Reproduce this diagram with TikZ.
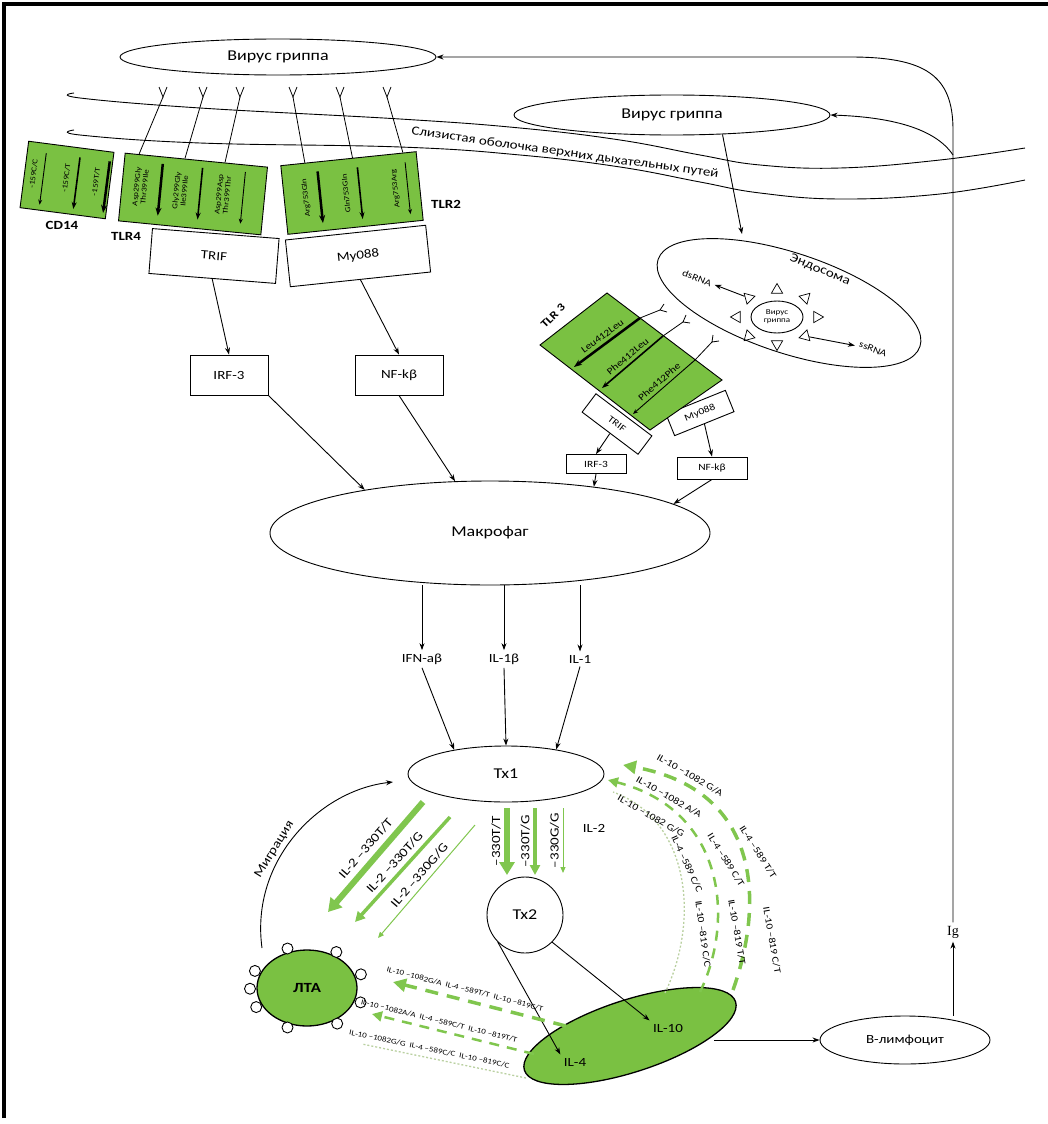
\documentclass[tikz,border=0pt]{standalone}
\usepackage{fontspec}
\setmainfont{Carlito}[FakeStretch=1.2]
\newfontfamily\igfont{Liberation Serif}
\usetikzlibrary{arrows.meta, positioning, calc, shapes.geometric}

\definecolor{leaf}{RGB}{122,193,66}
\definecolor{snp}{RGB}{128,198,78}
\definecolor{snplight}{RGB}{185,208,160}

\begin{document}
\begin{tikzpicture}[
    x=1pt, y=-1pt,
    arr/.style={-{Stealth[length=7pt, width=5pt]}, line width=0.9pt},
    cell/.style={ellipse, draw, line width=0.9pt, inner sep=0pt},
    gbox/.style={draw, fill=leaf, line width=0.9pt, inner sep=0pt},
    wbox/.style={draw, fill=white, line width=0.9pt, inner sep=0pt},
    rec/.style={line width=0.8pt},
    snpA/.style={-{Triangle[length=13pt, width=15pt]}, line width=6pt, draw=snp},
    snpB/.style={-{Triangle[length=10pt, width=10pt]}, line width=3.5pt, draw=snp},
    snpC/.style={-{Triangle[length=6pt, width=5pt]}, line width=1pt, draw=snp},
    dashA/.style={-{Triangle[length=13pt, width=13pt]}, line width=3.5pt, draw=snp, dash pattern=on 13pt off 9pt},
    dashB/.style={-{Triangle[length=10pt, width=10pt]}, line width=2.5pt, draw=snp, dash pattern=on 10pt off 8pt},
    dashC/.style={line width=1.3pt, draw=snplight, dash pattern=on 2pt off 2pt},
    barA/.style={-{Stealth[length=8pt, width=6pt]}, line width=2.5pt},
    barB/.style={-{Stealth[length=7pt, width=5pt]}, line width=1.6pt},
    barC/.style={-{Stealth[length=5pt, width=4pt]}, line width=0.9pt},
    fbig/.style={font=\fontsize{15}{16}\selectfont},
    fmid/.style={font=\fontsize{12.5}{13.5}\selectfont},
    fsmall/.style={font=\fontsize{9.5}{10.5}\selectfont},
    ftiny/.style={font=\fontsize{7.5}{8}\selectfont},
    flabel/.style={font=\bfseries\fontsize{12.5}{13.5}\selectfont},
]

\useasboundingbox (0,0) rectangle (1048,1124);
\draw[line width=3.5pt] (4,1118) -- (4,4) -- (1048,4);

\node[cell, fbig, minimum width=316, minimum height=36] (flu) at (278,57) {Вирус гриппа};
\node[cell, fbig, minimum width=316, minimum height=40] (flu2) at (672,115) {Вирус гриппа};

\draw[line width=0.9pt] plot[smooth, tension=0.7] coordinates {(74,93) (80,98) (200,108) (400,119) (520,128) (620,140) (700,155) (760,165) (840,168) (940,160) (1025,148)};
\draw[line width=0.9pt] plot[smooth, tension=0.7] coordinates {(74,130) (80,135) (200,143) (400,147) (520,155) (620,167) (700,182) (760,193) (840,199) (940,194) (1025,180)};
\node[fmid, rotate=-8] (mucosa) at (565,153) {Слизистая оболочка верхних дыхательных путей};

\node[font=\igfont\fontsize{14}{15}\selectfont] (ig) at (953,932) {Ig};
\coordinate (fork) at (953,155);
\draw[arr] (ig.north) -- (fork) -- (953,130) .. controls (953,75) and (925,57) .. (850,57) -- (flu.east);
\draw[arr] (fork) .. controls (935,128) and (890,117) .. (flu2.east);

\node[wbox, fmid, minimum width=127, minimum height=45, rotate=-4.5] (trif) at (214,256) {TRIF};
\node[wbox, fmid, minimum width=141, minimum height=47, rotate=6] (myd) at (358,256) {My088};

\node[gbox, minimum width=86, minimum height=67, rotate=-7.4] (cd14) at (67,180) {};
\node[gbox, minimum width=143, minimum height=68, rotate=-5.6] (tlr4) at (193,194) {};
\node[gbox, minimum width=136, minimum height=69, rotate=5.9] (tlr2) at (352,193) {};

\node[flabel] (cd14lbl) at (62,225) {CD14};
\node[flabel] (tlr4lbl) at (126,236) {TLR4};
\node[flabel] (tlr2lbl) at (446,204) {TLR2};

\begin{scope}[shift={(cd14.center)}, rotate=-7.4]
    \draw[barC] (-24,-24) -- (-24,28);
    \draw[barB] (10,-24) -- (10,28);
    \draw[barA] (40,-24) -- (40,28);
    \node[ftiny, rotate=90, transform shape] at (-34,-2) {-159C/C};
    \node[ftiny, rotate=90, transform shape] at (-1,-2) {-159C/T};
    \node[ftiny, rotate=90, transform shape] at (29,-2) {-159T/T};
\end{scope}

\begin{scope}[shift={(tlr4.center)}, rotate=-5.6]
    \draw[barA] (-33,-27) -- (-33,25);
    \draw[barB] (7,-27) -- (7,25);
    \draw[barC] (50,-27) -- (50,25);
    \node[ftiny, rotate=90, transform shape, align=center] at (-53,-2) {Asp299Gly\\Thr399Ile};
    \node[ftiny, rotate=90, transform shape, align=center] at (-13,-2) {Gly299Gly\\Ile399Ile};
    \node[ftiny, rotate=90, transform shape, align=center] at (30,-2) {Asp299Asp\\Thr399Thr};
\end{scope}

\begin{scope}[shift={(tlr2.center)}, rotate=5.9]
    \draw[barA] (-32,-25) -- (-32,27);
    \draw[barB] (8,-25) -- (8,27);
    \draw[barC] (56,-25) -- (56,27);
    \node[ftiny, rotate=90, transform shape] at (-46,0) {Arg753Gln};
    \node[ftiny, rotate=90, transform shape] at (-6,0) {Gln753Gln};
    \node[ftiny, rotate=90, transform shape] at (44,0) {Arg753Arg};
\end{scope}

\foreach \n/\x in {1/163, 2/203, 3/240, 4/293, 5/340, 6/387} {
    \coordinate (y\n) at (\x,97);
    \draw[rec] (\x-4,87) -- (y\n) -- (\x+4,87);
}
\draw[rec] (y1) -- ($(tlr4.north west)!0.10!(tlr4.north east)$);
\draw[rec] (y2) -- ($(tlr4.north west)!0.42!(tlr4.north east)$);
\draw[rec] (y3) -- ($(tlr4.north west)!0.70!(tlr4.north east)$);
\draw[rec] (y4) -- ($(tlr2.north west)!0.18!(tlr2.north east)$);
\draw[rec] (y5) -- ($(tlr2.north west)!0.53!(tlr2.north east)$);
\draw[rec] (y6) -- ($(tlr2.north west)!0.90!(tlr2.north east)$);

\node[wbox, fmid, minimum width=78, minimum height=40] (irf) at (229,375) {IRF-3};
\node[wbox, fmid, minimum width=88, minimum height=40] (nfkb) at (399,375) {NF-kβ};
\draw[arr] (trif.south) -- (irf.north);
\draw[arr] (myd.south) -- (nfkb.north);

\node[cell, fbig, minimum width=440, minimum height=104] (mac) at (490,533) {Макрофаг};
\draw[arr] (irf.south east) -- (mac.161);
\draw[arr] (nfkb.south) -- (mac.124);

\coordinate (endotop) at (742,234);
\draw[arr] (flu2.339) -- (endotop);
\node[cell, minimum width=276, minimum height=100, rotate=-18.4] (endo) at (789,303) {};
\node[fmid, rotate=-22] (endolbl) at (820,270) {Эндосома};
\node[cell, ftiny, align=center, minimum width=52, minimum height=32] (flu3) at (777,317) {Вирус\\гриппа};
\foreach \a in {0,45,...,315}
    \node[regular polygon, regular polygon sides=3, draw, line width=0.7pt, inner sep=0pt, minimum size=13, rotate=\a-90] (spk\a) at ($(flu3.center)+(-\a:40 and 27)$) {};
\node[fsmall, rotate=-22] (dsrna) at (697,278) {dsRNA};
\node[fsmall, rotate=-22] (ssrna) at (873,349) {ssRNA};
\draw[arr] (spk135) -- (dsrna);
\draw[arr] (spk315) -- (ssrna);

\node[wbox, fsmall, minimum width=70, minimum height=23, rotate=-37] (trif2) at (617,424) {TRIF};
\node[wbox, fsmall, minimum width=64, minimum height=23, rotate=22] (myd2) at (700,413) {My088};

\coordinate (t3n) at (607,293);
\coordinate (t3e) at (722,380);
\coordinate (t3s) at (650,430);
\coordinate (t3w) at (540,345);
\draw[gbox] (t3n) -- (t3e) -- (t3s) -- (t3w) -- cycle;
\node[font=\bfseries\fontsize{11}{12}\selectfont, rotate=45] (tlr3lbl) at (553,316) {TLR 3};

\coordinate (l1a) at (640,318);
\coordinate (l1b) at (574,367);
\coordinate (l2a) at (663,336);
\coordinate (l2b) at (602,388);
\coordinate (l3a) at (695,360);
\coordinate (l3b) at (633,414);
\draw[barA] (l1a) -- (l1b) node[midway, sloped, above, fsmall] {Leu412Leu};
\draw[barB] (l2a) -- (l2b) node[midway, sloped, above, fsmall] {Phe412Leu};
\draw[barC] (l3a) -- (l3b) node[midway, sloped, above, fsmall] {Phe412Phe};

\coordinate (ty1) at (660,310);
\coordinate (ty2) at (683,322);
\coordinate (ty3) at (712,342);
\draw[rec] (l1a) -- (ty1);
\draw[rec] (l2a) -- (ty2);
\draw[rec] (l3a) -- (ty3);
\draw[rec] ($(ty1)+(7,2)$) -- (ty1) -- ($(ty1)+(4,-6)$);
\draw[rec] ($(ty2)+(7,1)$) -- (ty2) -- ($(ty2)+(3,-7)$);
\draw[rec] ($(ty3)+(7,-1)$) -- (ty3) -- ($(ty3)+(1,-7)$);

\node[wbox, fsmall, minimum width=60, minimum height=19] (irf2) at (596,464) {IRF-3};
\node[wbox, fsmall, minimum width=70, minimum height=22] (nfkb2) at (712,468) {NF-kβ};
\draw[arr] (trif2.south) -- (irf2.north);
\draw[arr] (myd2.south) -- (nfkb2.north);
\draw[arr] (irf2.south) -- (mac.24);
\draw[arr] (nfkb2.south) -- (mac.9);

\node[fmid] (ifn) at (422,659) {IFN-aβ};
\node[fmid] (il1b) at (504,659) {IL-1β};
\node[fmid] (il1) at (580,659) {IL-1};
\draw[arr] (mac.south -| ifn) -- (ifn.north);
\draw[arr] (mac.south -| il1b) -- (il1b.north);
\draw[arr] (mac.south -| il1) -- (il1.north);

\node[cell, fbig, minimum width=196, minimum height=56] (tx1) at (506,774) {Тх1};
\node[circle, draw, line width=0.9pt, fbig, minimum size=76] (tx2) at (525,915) {Тх2};
\draw[arr] (ifn.south) -- (tx1.155);
\draw[arr] (il1b.south) -- (tx1.north);
\draw[arr] (il1.south) -- (tx1.26);

\coordinate (v1a) at (507,808);
\coordinate (v1b) at (507,875);
\coordinate (v2a) at (535,808);
\coordinate (v2b) at (535,875);
\coordinate (v3a) at (563,808);
\coordinate (v3b) at (563,873);
\draw[snpA] (v1a) -- (v1b) node[midway, rotate=90, anchor=south, fmid] {–330T/T};
\draw[snpB] (v2a) -- (v2b) node[midway, rotate=90, anchor=south, fmid] {–330T/G};
\draw[snpC] (v3a) -- (v3b) node[midway, rotate=90, anchor=south, fmid] {–330G/G};
\node[fmid] (il2) at (594,828) {IL-2};

\coordinate (d1a) at (423,802);
\coordinate (d1b) at (328,912);
\coordinate (d2a) at (450,817);
\coordinate (d2b) at (355,922);
\coordinate (d3a) at (475,825);
\coordinate (d3b) at (378,938);
\draw[snpA] (d1a) -- (d1b) node[midway, sloped, above=2pt, fmid] {IL-2 –330T/T};
\draw[snpB] (d2a) -- (d2b) node[midway, sloped, above=1pt, fmid] {IL-2 –330T/G};
\draw[snpC] (d3a) -- (d3b) node[midway, sloped, above=1pt, fmid] {IL-2 –330G/G};

\node[ellipse, draw, fill=leaf, line width=1.3pt, inner sep=0pt, minimum width=100, minimum height=76, font=\bfseries\fontsize{14}{15}\selectfont] (lta) at (307,988) {ЛТА};
\foreach \a in {19,59,110,156,181,207,250,302,340}
    \draw[fill=white, line width=0.9pt] ($(lta.center)+(-\a:57 and 42)$) circle (5.5);

\coordinate (migstart) at (262,948);
\coordinate (migend) at (393,782);
\draw[arr] (migstart) .. controls (250,860) and (320,790) .. (migend) node[pos=0.4, sloped, above, fmid] {Миграция};

\node[ellipse, draw, fill=leaf, line width=1.3pt, inner sep=0pt, minimum width=222, minimum height=72, rotate=18] (ilcell) at (630,1036) {};
\node[fmid] (il4) at (575,1062) {IL-4};
\node[fmid] (il10) at (668,1028) {IL-10};
\draw[arr] (tx2.south west) -- (il4.north west);
\draw[arr] (tx2.south east) -- (il10.north west);

\node[cell, fmid, minimum width=170, minimum height=48] (blym) at (905,1040) {В-лимфоцит};
\coordinate (ilout) at (714,1040);
\draw[arr] (ilout) -- (blym.west);
\draw[arr] (blym.north -| ig) -- (ig.south);

\coordinate (arcO1) at (733,990);
\coordinate (arcO2) at (623,765);
\coordinate (arcM1) at (700,992);
\coordinate (arcM2) at (608,780);
\coordinate (arcI1) at (665,993);
\coordinate (arcI2) at (613,792);
\draw[dashA] (arcO1) .. controls (765,900) and (760,790) .. (arcO2);
\draw[dashB] (arcM1) .. controls (735,920) and (725,810) .. (arcM2);
\draw[dashC] (arcI1) .. controls (700,920) and (690,820) .. (arcI2);

\node[fsmall, rotate=-30] (o1) at (690,775) {IL-10 –1082 G/A};
\node[fsmall, rotate=-57] (o2) at (758,852) {IL-4 –589 T/T};
\node[fsmall, rotate=-80] (o3) at (772,940) {IL-10 –819 C/T};
\node[fsmall, rotate=-30] (m1) at (669,797) {IL-10 –1082 A/A};
\node[fsmall, rotate=-58] (m2) at (726,860) {IL-4 –589 C/T};
\node[fsmall, rotate=-80] (m3) at (737,932) {IL-10 –819 T/T};
\node[fsmall, rotate=-30] (i1) at (651,816) {IL-10 –1082 G/G};
\node[fsmall, rotate=-65] (i2) at (687,864) {IL-4 –589 C/C};
\node[fsmall, rotate=-82] (i3) at (703,934) {IL-10 –819 C/C};

\coordinate (row1a) at (566,1026);
\coordinate (row1b) at (393,982);
\coordinate (row2a) at (534,1054);
\coordinate (row2b) at (372,1014);
\coordinate (row3a) at (526,1078);
\coordinate (row3b) at (362,1044);
\draw[dashA] (row1a) -- (row1b) node[pos=0.6, sloped, above=3pt, ftiny] {IL-10 –1082G/A \ IL-4 –589T/T \ IL-10 –819C/T};
\draw[dashB] (row2a) -- (row2b) node[pos=0.6, sloped, above=2pt, ftiny] {IL-10 –1082A/A \ IL-4 –589C/T \ IL-10 –819T/T};
\draw[dashC] (row3a) -- (row3b) node[pos=0.6, sloped, above=2pt, ftiny] {IL-10 –1082G/G \ IL-4 –589C/C \ IL-10 –819C/C};

\end{tikzpicture}
\end{document}
